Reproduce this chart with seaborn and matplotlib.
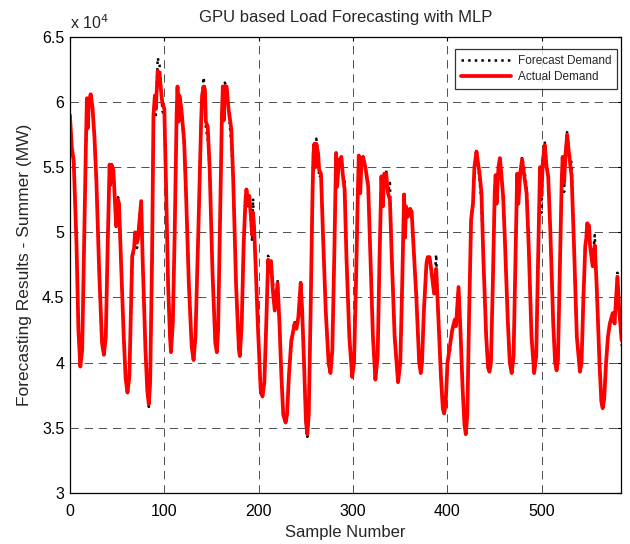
import matplotlib
matplotlib.use("Agg")
import matplotlib.pyplot as plt
import seaborn as sns
import pandas as pd

sns.set_style("white")
plt.rcParams['font.family'] = ['Liberation Sans', 'DejaVu Sans']

# sample index of each read-off vertex
sample_no = [
    0, 2, 4, 7, 9, 11, 13, 15, 17, 18, 19, 20, 22, 24, 26, 28, 31, 34, 36, 38,
    40, 42, 43, 44, 46, 48, 49, 51, 52, 54, 57, 59, 61, 63, 65, 66, 68, 69, 71, 72,
    75.5, 77, 80, 82, 83.6, 85, 87, 88.5, 90, 91, 93, 95, 97, 98, 100, 102, 104, 106, 107, 109,
    111, 113, 114, 115, 116, 118, 121, 123, 126, 129, 131, 133, 136, 139, 140, 141.6, 143, 144, 146, 148,
    151, 154, 155.7, 157, 159, 161, 162, 163, 164, 166, 168, 171, 173, 176, 179, 180, 182, 184, 186, 187,
    189, 190, 192, 193, 194, 195, 197, 199, 202, 204, 206, 208, 210, 211, 213, 215, 217, 220, 222, 224,
    226, 228.5, 230, 232, 234.5, 236, 238, 240, 242, 244.5, 246, 248, 250, 251.5, 253, 255, 257, 258, 259, 260,
    261, 263, 264, 266, 268, 271, 274, 276, 278, 280, 281.5, 282, 283, 285, 287.6, 289, 291, 293, 296, 299,
    301, 303, 305, 306, 307.5, 309, 310.5, 313, 316, 318, 321, 323.6, 326, 328, 330, 331.5, 333, 335, 337, 339,
    341, 344, 347.6, 350, 352, 354, 355, 356, 358, 360, 362, 364, 367, 370, 371.7, 373, 375, 377.7, 379, 381,
    383, 385.8, 388, 390, 393, 395, 396.4, 398, 400, 402.4, 405, 407.7, 409, 411.7, 414, 416, 418, 419.4, 421, 423,
    425, 427, 428.5, 430.7, 432, 434, 436, 438, 441, 443, 444.5, 446, 448, 450, 451, 452, 454, 455.5, 457, 459,
    461, 464, 466, 468, 470, 472, 473.8, 475, 477, 479, 481, 483.8, 486, 489, 491.8, 494, 496, 498, 499.5, 501,
    503, 505, 506.7, 509, 512, 514, 515.6, 517, 519, 521, 522, 523.5, 525, 526.8, 528.5, 531.5, 534, 537, 540.3, 542,
    544, 546, 547, 548, 550, 551, 553.8, 556, 558, 561, 563, 564.4, 566, 568, 570, 572, 575, 577, 580, 582,
    584.5,
]

# actual demand, x 10^4 MW
actual_demand = [
    5.90, 5.65, 5.55, 4.90, 4.25, 3.97, 4.10, 4.90, 5.70, 6.03, 5.80, 6.00, 6.06, 5.95, 5.73, 5.40, 4.70, 4.15, 4.06, 4.20,
    4.90, 5.52, 5.38, 5.52, 5.48, 5.20, 5.05, 5.25, 5.22, 4.80, 4.20, 3.88, 3.77, 3.90, 4.50, 4.82, 4.88, 5.00, 4.92, 4.95,
    5.24, 4.80, 4.10, 3.78, 3.68, 3.85, 4.80, 5.90, 6.05, 5.95, 6.24, 6.22, 6.05, 5.99, 5.95, 5.30, 4.60, 4.20, 4.08, 4.30,
    5.00, 5.90, 6.12, 5.85, 6.05, 5.95, 5.70, 5.30, 4.60, 4.12, 4.02, 4.20, 5.00, 5.85, 6.05, 6.12, 6.10, 5.85, 5.81, 5.50,
    4.70, 4.15, 4.08, 4.25, 5.10, 5.90, 6.12, 5.86, 6.12, 6.12, 5.95, 5.79, 5.40, 4.60, 4.10, 4.05, 4.30, 4.90, 5.25, 5.33,
    5.22, 5.28, 5.10, 4.98, 5.15, 5.05, 4.70, 4.30, 3.80, 3.74, 3.85, 4.30, 4.79, 4.70, 4.78, 4.55, 4.40, 4.61, 4.30, 3.90,
    3.60, 3.54, 3.60, 3.90, 4.17, 4.22, 4.30, 4.26, 4.35, 4.61, 4.40, 4.00, 3.55, 3.45, 3.60, 4.40, 5.30, 5.60, 5.68, 5.50,
    5.68, 5.60, 5.48, 5.45, 5.00, 4.40, 4.00, 3.92, 4.10, 4.80, 5.40, 5.61, 5.35, 5.55, 5.58, 5.45, 5.33, 4.80, 4.20, 3.89,
    4.00, 4.60, 5.30, 5.59, 5.30, 5.55, 5.58, 5.50, 5.35, 4.90, 4.20, 3.87, 4.05, 4.80, 5.43, 5.20, 5.45, 5.45, 5.30, 5.25,
    4.80, 4.20, 3.85, 4.00, 4.60, 5.29, 4.96, 5.20, 5.12, 5.18, 5.16, 4.90, 4.50, 4.00, 3.92, 4.00, 4.40, 4.76, 4.81, 4.81,
    4.70, 4.53, 4.72, 4.40, 3.90, 3.65, 3.61, 3.68, 4.00, 4.12, 4.25, 4.33, 4.28, 4.58, 4.20, 3.80, 3.52, 3.45, 3.60, 4.40,
    5.10, 5.22, 5.50, 5.62, 5.55, 5.45, 5.30, 4.80, 4.20, 3.96, 3.93, 4.00, 4.60, 5.30, 5.44, 5.22, 5.50, 5.57, 5.45, 5.27,
    4.90, 4.30, 4.00, 3.92, 4.05, 4.80, 5.45, 5.22, 5.45, 5.56, 5.45, 5.30, 4.90, 4.20, 3.92, 4.05, 4.80, 5.50, 5.28, 5.55,
    5.67, 5.50, 5.43, 5.00, 4.30, 4.00, 3.94, 4.02, 4.70, 5.40, 5.58, 5.38, 5.60, 5.75, 5.62, 5.43, 4.90, 4.20, 3.93, 4.00,
    4.50, 4.90, 4.95, 5.07, 5.05, 4.90, 4.74, 4.90, 4.60, 4.00, 3.70, 3.65, 3.72, 4.00, 4.20, 4.30, 4.38, 4.30, 4.66, 4.40,
    4.17,
]

# forecast demand, x 10^4 MW
forecast_demand = [
    5.90, 5.62, 5.55, 4.90, 4.25, 3.97, 4.10, 4.90, 5.70, 6.03, 5.80, 6.00, 6.08, 5.95, 5.71, 5.40, 4.70, 4.15, 4.06, 4.20,
    4.90, 5.52, 5.35, 5.52, 5.48, 5.20, 5.03, 5.27, 5.22, 4.80, 4.20, 3.88, 3.76, 3.90, 4.50, 4.77, 4.88, 5.01, 4.88, 4.95,
    5.24, 4.80, 4.10, 3.78, 3.66, 3.85, 4.80, 5.90, 6.05, 5.90, 6.34, 6.28, 6.05, 5.93, 5.90, 5.30, 4.60, 4.20, 4.08, 4.30,
    5.00, 5.90, 6.10, 5.85, 6.05, 5.97, 5.66, 5.30, 4.60, 4.12, 4.02, 4.20, 5.00, 5.85, 6.05, 6.19, 6.10, 5.80, 5.72, 5.50,
    4.70, 4.15, 4.08, 4.25, 5.10, 5.90, 6.14, 5.86, 6.15, 6.12, 5.95, 5.68, 5.40, 4.60, 4.10, 4.05, 4.30, 4.90, 5.25, 5.33,
    5.18, 5.28, 5.05, 4.93, 5.26, 5.05, 4.70, 4.30, 3.80, 3.74, 3.85, 4.30, 4.82, 4.74, 4.78, 4.62, 4.45, 4.64, 4.30, 3.90,
    3.60, 3.54, 3.60, 3.90, 4.12, 4.22, 4.32, 4.26, 4.35, 4.63, 4.40, 4.00, 3.55, 3.43, 3.60, 4.40, 5.30, 5.60, 5.70, 5.50,
    5.72, 5.60, 5.42, 5.44, 5.00, 4.40, 4.00, 3.92, 4.10, 4.80, 5.40, 5.61, 5.35, 5.55, 5.58, 5.44, 5.40, 4.80, 4.20, 3.89,
    4.00, 4.60, 5.30, 5.59, 5.30, 5.55, 5.58, 5.50, 5.38, 4.90, 4.20, 3.87, 4.05, 4.80, 5.43, 5.20, 5.45, 5.48, 5.30, 5.38,
    4.80, 4.20, 3.85, 4.00, 4.60, 5.31, 4.96, 5.20, 5.17, 5.20, 5.16, 4.90, 4.50, 4.00, 3.92, 4.00, 4.40, 4.76, 4.81, 4.81,
    4.70, 4.55, 4.83, 4.40, 3.90, 3.65, 3.61, 3.68, 4.00, 4.08, 4.25, 4.32, 4.28, 4.60, 4.20, 3.80, 3.52, 3.45, 3.60, 4.40,
    5.10, 5.22, 5.50, 5.64, 5.55, 5.40, 5.23, 4.80, 4.20, 3.96, 3.93, 4.00, 4.60, 5.30, 5.44, 5.22, 5.50, 5.57, 5.45, 5.24,
    4.90, 4.30, 4.00, 3.92, 4.05, 4.80, 5.45, 5.22, 5.45, 5.58, 5.50, 5.35, 4.90, 4.20, 3.92, 4.05, 4.80, 5.50, 5.15, 5.55,
    5.70, 5.53, 5.43, 5.00, 4.30, 4.00, 3.94, 4.02, 4.70, 5.40, 5.58, 5.31, 5.60, 5.78, 5.62, 5.53, 4.90, 4.20, 3.93, 4.00,
    4.50, 4.90, 4.92, 5.07, 5.05, 4.90, 4.80, 4.98, 4.60, 4.00, 3.70, 3.64, 3.78, 4.00, 4.20, 4.30, 4.34, 4.30, 4.69, 4.40,
    4.13,
]

x_ticks = [0, 100, 200, 300, 400, 500]
y_ticks = [3, 3.5, 4, 4.5, 5, 5.5, 6, 6.5]
y_tick_labels = ["3", "3.5", "4", "4.5", "5", "5.5", "6", "6.5"]

df = pd.DataFrame({"Sample Number": sample_no,
                   "Forecast Demand": forecast_demand,
                   "Actual Demand": actual_demand})

fig = plt.figure(figsize=(6.3, 5.44), dpi=100)
ax = fig.add_axes([0.111, 0.094, 0.875, 0.838])

sns.lineplot(data=df, x="Sample Number", y="Forecast Demand", ax=ax, color="black",
             linestyle=":", linewidth=1.8, estimator=None, label="Forecast Demand")
sns.lineplot(data=df, x="Sample Number", y="Actual Demand", ax=ax, color="#ff0000",
             linewidth=2.7, estimator=None, label="Actual Demand")

ax.set_xlim(0, 584)
ax.set_ylim(3, 6.5)
ax.set_xticks(x_ticks)
ax.set_yticks(y_ticks)
ax.set_yticklabels(y_tick_labels)
ax.grid(True, color="black", linestyle=(0, (10, 7)), linewidth=0.6, alpha=0.8)
ax.tick_params(direction="in", length=3, labelsize=11.5, colors="black", top=True, right=True)
ax.tick_params(axis="x", pad=8)
ax.tick_params(axis="y", pad=4)
for s in ax.spines.values():
    s.set_visible(True)
    s.set_color("black")
    s.set_linewidth(0.9)

ax.set_title("GPU based Load Forecasting with MLP", fontsize=12, pad=11)
ax.set_xlabel("Sample Number", fontsize=12, labelpad=4)
ax.set_ylabel("Forecasting Results - Summer (MW)", fontsize=12.5, labelpad=7)
ax.text(0.0, 1.012, "x 10$^4$", transform=ax.transAxes, fontsize=11.5, ha="left", va="bottom")

leg = ax.legend(loc="upper right", bbox_to_anchor=(0.993, 0.974), borderaxespad=0,
                fontsize=8.5, frameon=True, fancybox=False, edgecolor="black",
                borderpad=0.5, handlelength=4.2, labelspacing=0.4, handletextpad=0.6)
leg.get_frame().set_linewidth(0.9)

fig.savefig("out.png", dpi=100)
